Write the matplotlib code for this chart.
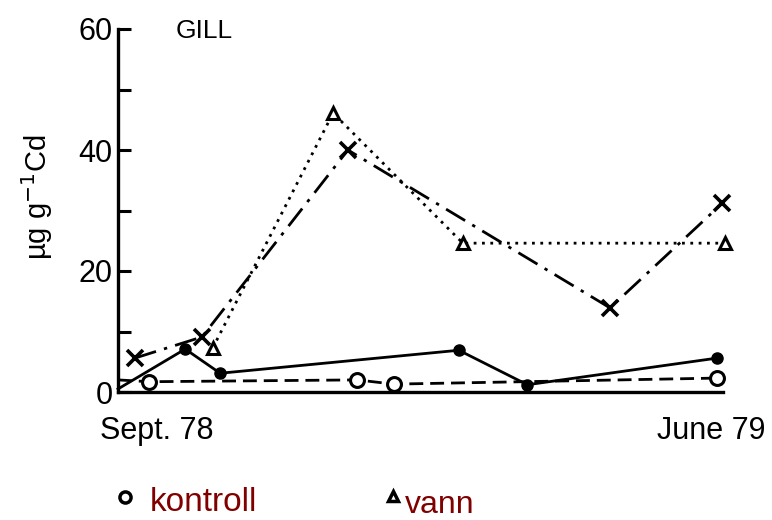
import matplotlib.pyplot as plt
from matplotlib.lines import Line2D

# months after Sept. 78
ctrl_x = [0, 0.46, 3.56, 4.1, 8.91]
ctrl_y = [2.0, 1.7, 2.0, 1.3, 2.3]

dot_x = [0, 1.0, 1.52, 5.07, 6.09, 8.91]
dot_y = [0.5, 7.1, 3.1, 6.9, 1.2, 5.6]

cross_x = [0.25, 1.25, 3.42, 7.32, 8.99]
cross_y = [5.6, 9.1, 40.0, 13.9, 31.2]

vann_x = [1.41, 3.2, 5.13, 9.03]
vann_y = [7.3, 46.1, 24.6, 24.6]

y_ticks = [0, 10, 20, 30, 40, 50, 60]
y_labels = ['0', '', '20', '', '40', '', '60']
x_labels = ['Sept. 78', 'June 79']

plt.rcParams['font.family'] = ['Liberation Sans', 'DejaVu Sans']

fig = plt.figure(figsize=(7.72, 5.2), dpi=100)
ax = fig.add_axes([118 / 772, 128 / 520, 605 / 772, 363 / 520])
ax.set_xlim(0, 9)
ax.set_ylim(0, 60)

lw = 2.0
ax.plot(ctrl_x, ctrl_y, color='black', lw=lw, dashes=(5, 2.5), marker='o', ms=10,
        mfc='white', mec='black', mew=2.2, markevery=[1, 2, 3, 4], clip_on=False, zorder=3)
ax.plot(dot_x, dot_y, color='black', lw=lw, ls='-', marker='o', ms=8,
        mfc='black', mec='black', markevery=[1, 2, 3, 4, 5], clip_on=False, zorder=3)
ax.plot(cross_x, cross_y, color='black', lw=lw, dashes=(8, 3, 1.2, 3), marker='x', ms=12,
        mew=2.6, clip_on=False, zorder=3)
ax.plot(vann_x, vann_y, color='black', lw=lw, ls=(0, (1, 2)), marker='^', ms=9,
        mfc='white', mec='black', mew=2.2, clip_on=False, zorder=3)

for s in ['top', 'right']:
    ax.spines[s].set_visible(False)
for s in ['left', 'bottom']:
    ax.spines[s].set_linewidth(2.4)

ax.set_yticks(y_ticks)
ax.set_yticklabels(y_labels, fontsize=22)
ax.tick_params(axis='y', direction='in', length=9, width=2.2, pad=4)
ax.set_xticks([])

ax.text(-0.029, -0.13, x_labels[0], transform=ax.transAxes, fontsize=22,
        ha='left', va='baseline')
ax.text(1.07, -0.13, x_labels[1], transform=ax.transAxes, fontsize=22,
        ha='right', va='baseline')
ax.text(0.142, 0.975, 'GILL', transform=ax.transAxes, fontsize=19,
        ha='center', va='baseline')

fig.text(37 / 772, 1 - 197 / 520, 'µg g$^{-1}$Cd', rotation=90, fontsize=21,
         ha='center', va='center')

# legend below the plot
fig.add_artist(Line2D([125 / 772], [1 - 497 / 520], marker='o', ms=8, mfc='white',
                      mec='black', mew=2.5, transform=fig.transFigure))
fig.text(150 / 772, 1 - 511 / 520, 'kontroll', color='#800000', fontsize=24,
         ha='left', va='baseline')
fig.add_artist(Line2D([393 / 772], [1 - 496 / 520], marker='^', ms=7, mfc='white',
                      mec='black', mew=2.5, transform=fig.transFigure))
fig.text(405 / 772, 1 - 513 / 520, 'vann', color='#800000', fontsize=23,
         ha='left', va='baseline')

fig.savefig('out.png', dpi=100)
